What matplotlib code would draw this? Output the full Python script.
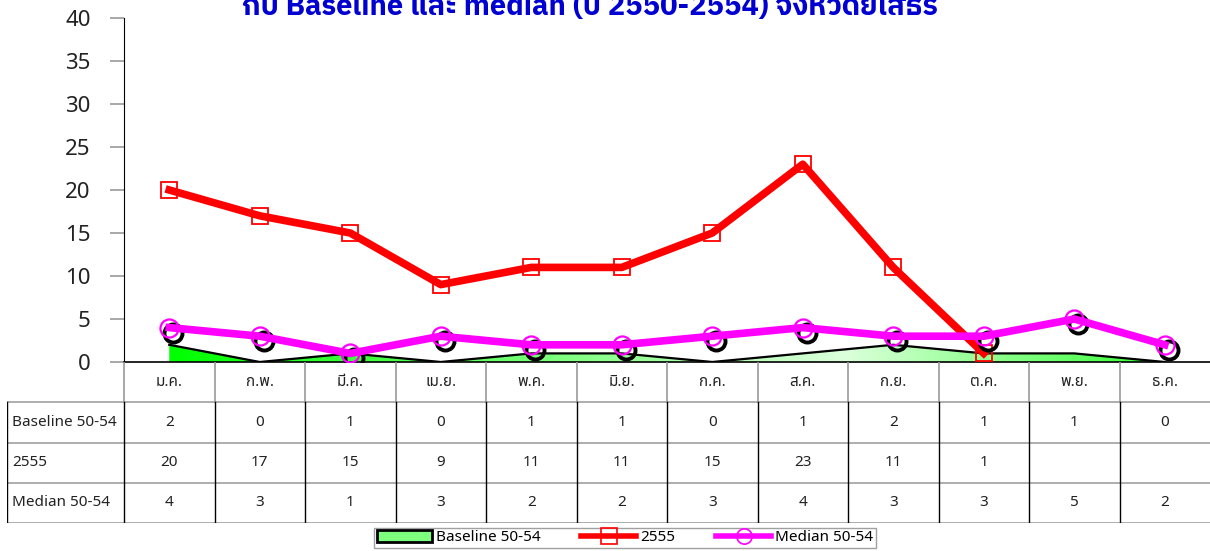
import numpy as np
import matplotlib
matplotlib.use("Agg")
import matplotlib.pyplot as plt
import matplotlib.transforms as mtransforms
from matplotlib.colors import LinearSegmentedColormap
from matplotlib.lines import Line2D
from matplotlib.patches import Patch

plt.rcParams['font.family'] = ['Noto Sans', 'Noto Sans Thai', 'DejaVu Sans']

months = ['ม.ค.', 'ก.พ.', 'มี.ค.', 'เม.ย.', 'พ.ค.', 'มิ.ย.',
          'ก.ค.', 'ส.ค.', 'ก.ย.', 'ต.ค.', 'พ.ย.', 'ธ.ค.']
baseline = [2, 0, 1, 0, 1, 1, 0, 1, 2, 1, 1, 0]
cases_2555 = [20, 17, 15, 9, 11, 11, 15, 23, 11, 1, None, None]
median = [4, 3, 1, 3, 2, 2, 3, 4, 3, 3, 5, 2]
row_names = ['Baseline 50-54', '2555', 'Median 50-54']
title = 'กับ Baseline และ median (ปี 2550-2554) จังหวัดยโสธร'

W, H = 1210, 551
fig = plt.figure(figsize=(W / 100, H / 100), dpi=100)

# main plot area (pixels from the reference)
ax_l, ax_r, ax_t, ax_b = 124, 1210, 18, 362
ax = fig.add_axes([ax_l / W, 1 - ax_b / H, (ax_r - ax_l) / W, (ax_b - ax_t) / H])
x = np.arange(len(months))
ax.set_xlim(-0.5, len(months) - 0.5)
ax.set_ylim(0, 40)
ax.set_yticks(range(0, 41, 5))
ax.tick_params(axis='y', labelsize=16, length=10, width=1.2, color='#999999',
               labelcolor='#222222', pad=14)
ax.set_xticks([])
for s in ['top', 'right']:
    ax.spines[s].set_visible(False)
ax.spines['left'].set_color('black')
ax.spines['bottom'].set_color('black')
ax.spines['bottom'].set_linewidth(1.2)

# baseline area with a green gradient
poly = ax.fill_between(x, 0, baseline, facecolor='none', edgecolor='none')
cmap = LinearSegmentedColormap.from_list(
    'g', [(0.0, '#00ff00'), (0.68, '#dcffdc'), (1.0, '#33ff33')])
grad = np.tile(np.linspace(0, 1, 256), (20, 1))
img = ax.imshow(grad, extent=[0, len(months) - 1, 0, max(baseline)],
                aspect='auto', cmap=cmap, origin='lower', zorder=1)
img.set_clip_path(poly.get_paths()[0], transform=ax.transData)
ax.plot(x, baseline, color='black', lw=1.6, zorder=2)

# red 2555 series
ax.plot(x, [np.nan if v is None else v for v in cases_2555], color='#ff0000',
        lw=5.5, marker='s', ms=12, mfc='none', mec='#ff0000', mew=1.3, zorder=3)

# median with a dark shadow under the markers
shadow = ax.transData + mtransforms.ScaledTranslation(4 / 100, -5 / 100,
                                                       fig.dpi_scale_trans)
ax.plot(x, median, ls='none', marker='o', ms=13, mfc='none', mec='black',
        mew=2.8, transform=shadow, zorder=4)
ax.plot(x, median, color='#ff00ff', lw=5.5, marker='o', ms=13, mfc='none',
        mec='#ff00ff', mew=1.6, zorder=5)

# data table
tab_l, tab_b = 7, 523
lab_w = (ax_l - tab_l) / ((ax_r - ax_l) / len(months))
tax = fig.add_axes([tab_l / W, 1 - tab_b / H, (W - tab_l) / W, (tab_b - ax_b) / H])
tax.set_xlim(-0.5 - lab_w, len(months) - 0.5)
tax.set_ylim(4, 0)
tax.axis('off')
rows = [baseline, cases_2555, median]
for i, m in enumerate(months):
    tax.text(i, 0.5, m, ha='center', va='center', fontsize=11, color='#222222')
    for r, vals in enumerate(rows):
        v = vals[i]
        if v is not None:
            tax.text(i, r + 1.5, str(v), ha='center', va='center', fontsize=11,
                     color='#222222')
for r, name in enumerate(row_names):
    tax.text(-0.5 - lab_w + 0.06, r + 1.5, name, ha='left', va='center',
             fontsize=11, color='#222222')
for r in range(1, 5):
    tax.plot([-0.5 - lab_w, len(months) - 0.5], [r, r], color='#a0a0a0', lw=1.2)
tax.plot([-0.5 - lab_w] * 2, [1, 4], color='black', lw=1)
for i in range(len(months)):
    tax.plot([i - 0.5] * 2, [0, 1], color='#999999', lw=1.2)
    tax.plot([i - 0.5] * 2, [1, 4], color='black', lw=1)

# title (its upper part is cut off in the reference)
fig.text(590 / W, 1 - 15 / H, title, ha='center', va='baseline', fontsize=21,
         fontweight='bold', color='#0000d0',
         family=['IBM Plex Sans Thai', 'Noto Sans', 'DejaVu Sans'])

# legend
handles = [
    Patch(facecolor='#7dff7d', edgecolor='black', linewidth=2),
    Line2D([], [], color='#ff0000', lw=4, marker='s', ms=11, mfc='none',
           mec='#ff0000', mew=1.2),
    Line2D([], [], color='#ff00ff', lw=4, marker='o', ms=11, mfc='none',
           mec='#ff00ff', mew=1.2),
]
leg = fig.legend(handles, row_names, loc='upper center', ncol=3,
                 bbox_to_anchor=(625 / W, 1 - 528 / H), fontsize=11,
                 frameon=True, fancybox=False, edgecolor='#888888',
                 handlelength=3.6, handleheight=0.8, columnspacing=2.7,
                 handletextpad=0.25, borderpad=0.15, borderaxespad=0)
leg.get_frame().set_linewidth(1)

fig.savefig('out.png', dpi=100)
